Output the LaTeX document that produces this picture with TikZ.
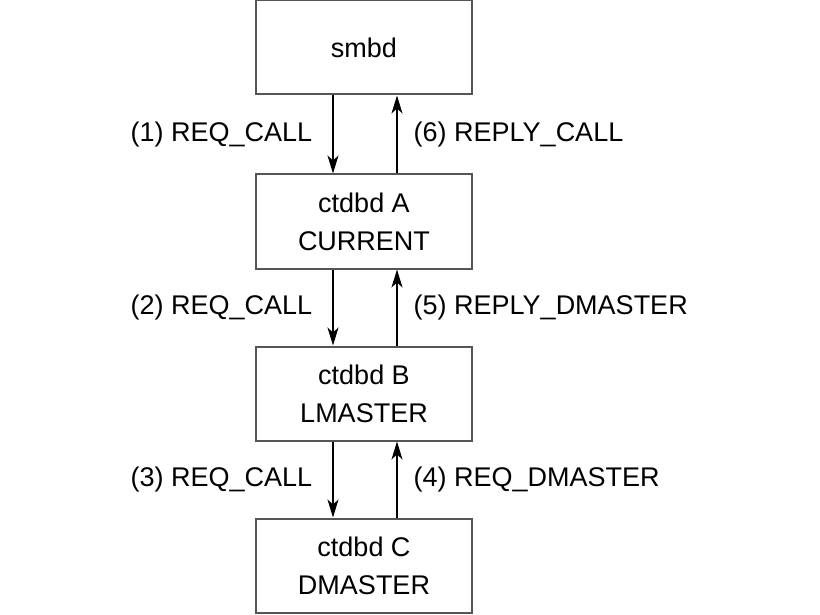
\documentclass[tikz,border=0pt]{standalone}
\usepackage{fontspec}
\setmainfont{Liberation Sans}
\usepackage{tikz}
\usetikzlibrary{shapes,arrows.meta}
\usetikzlibrary{positioning}
\definecolor{boxline}{HTML}{555555}
\tikzstyle{block} = [rectangle, draw=boxline, line width=2pt, fill=white,
    minimum width=216pt, minimum height=94pt, align=center, inner sep=0pt,
    font=\fontsize{27}{38}\selectfont]
\tikzstyle{line} = [draw, line width=1.4pt, -{Stealth[length=18pt,width=11pt,inset=5pt]}]
\tikzstyle{msg} = [font=\fontsize{27}{30}\selectfont, inner sep=0pt]

\begin{document}
\begin{tikzpicture}[x=1pt,y=1pt,node distance=78pt]
    \useasboundingbox (0,0) rectangle (820,-615);
    \fill[white] (0,0) rectangle (820,-615);
    % Place nodes
    \node [block] (smbd) at (364,-47.5) {smbd};
    \node [block, below=of smbd] (a) {ctdbd A\\CURRENT};
    \node [block, below=76pt of a] (b) {ctdbd B\\LMASTER};
    \node [block, below=76pt of b] (c) {ctdbd C\\DMASTER};

    % Draw edges
    \path [line] ([xshift=-31pt]smbd.south) -- node [msg, left=20pt] {(1) REQ\_CALL} ([xshift=-31pt]a.north);
    \path [line] ([xshift=33pt]a.north) -- node [msg, right=16pt] {(6) REPLY\_CALL} ([xshift=33pt]smbd.south);
    \path [line] ([xshift=-31pt]a.south) -- node [msg, left=20pt] {(2) REQ\_CALL} ([xshift=-31pt]b.north);
    \path [line] ([xshift=33pt]b.north) -- node [msg, right=16pt] {(5) REPLY\_DMASTER} ([xshift=33pt]a.south);
    \path [line] ([xshift=-31pt]b.south) -- node [msg, left=20pt] {(3) REQ\_CALL} ([xshift=-31pt]c.north);
    \path [line] ([xshift=33pt]c.north) -- node [msg, right=16pt] {(4) REQ\_DMASTER} ([xshift=33pt]b.south);
\end{tikzpicture}
\end{document}
